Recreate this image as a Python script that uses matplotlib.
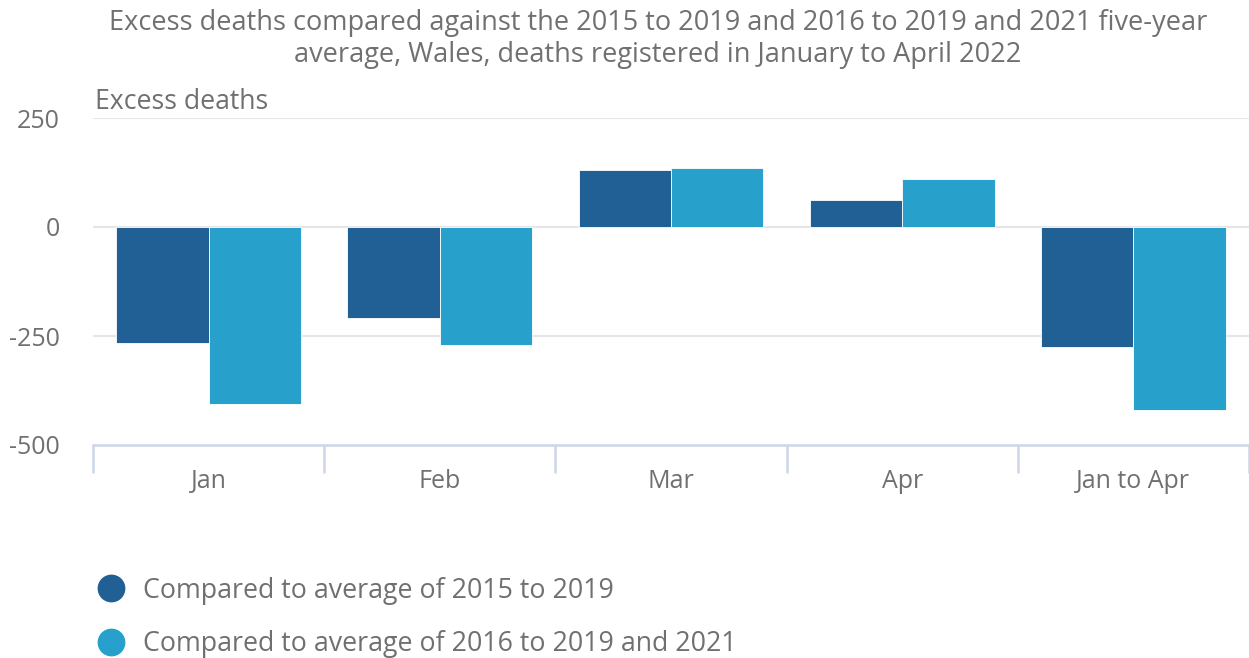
import matplotlib
matplotlib.use("Agg")
import matplotlib.pyplot as plt
import numpy as np
from matplotlib.lines import Line2D

categories = ["Jan", "Feb", "Mar", "Apr", "Jan to Apr"]
series_names = ["Compared to average of 2015 to 2019",
                "Compared to average of 2016 to 2019 and 2021"]
avg_2015_2019 = [-266, -209, 130, 63, -275]
avg_2016_2019_2021 = [-406, -271, 135, 109, -420]
yticks = [250, 0, -250, -500]

dark = "#206095"
light = "#27a0cc"
txt = "#707070"

plt.rcParams['font.family'] = ['Open Sans', 'DejaVu Sans']

fig = plt.figure(figsize=(12.49, 6.58), dpi=100)
ax = fig.add_axes([93/1249, 1-445/658, (1249-93)/1249, (445-118)/658])

x = np.arange(len(categories))
w = 0.4
ax.bar(x - w/2, avg_2015_2019, w, color=dark, edgecolor="white", linewidth=0.6, zorder=3)
ax.bar(x + w/2, avg_2016_2019_2021, w, color=light, edgecolor="white", linewidth=0.6, zorder=3)

ax.set_xlim(-0.5, len(categories) - 0.5)
ax.set_ylim(-500, 250)
ax.set_yticks(yticks)
ax.set_yticklabels([f"{v}" for v in yticks])
for v in yticks:
    if v != -500:
        ax.axhline(v, color="#e6e6e6", linewidth=1.5, zorder=1)

for s in ["top", "right", "left"]:
    ax.spines[s].set_visible(False)
ax.spines["bottom"].set_color("#ccd6e8")
ax.spines["bottom"].set_linewidth(1.8)

ax.set_xticks(x)
ax.set_xticklabels(categories)
ax.tick_params(axis="x", length=0, pad=17, labelsize=18, labelcolor=txt)
ax.set_xticks(np.arange(len(categories) + 1) - 0.5, minor=True)
ax.tick_params(axis="x", which="minor", length=20, width=1.8, color="#ccd6e8")
ax.tick_params(axis="y", length=0, pad=24, labelsize=18, labelcolor=txt)

fig.text(658/1249, 1 - 39/658, "Excess deaths compared against the 2015 to 2019 and 2016 to 2019 and 2021 five-year\naverage, Wales, deaths registered in January to April 2022",
         ha="center", va="center", fontsize=19.5, color=txt, linespacing=1.2)
fig.text(95/1249, 1 - 102/658, "Excess deaths", ha="left", va="center", fontsize=19.2, color=txt)

handles = [Line2D([0], [0], marker="o", linestyle="none", markersize=19, markerfacecolor=c, markeredgecolor=c)
           for c in (dark, light)]
fig.legend(handles, series_names, loc="upper left", bbox_to_anchor=(84/1249, 1 - 566/658),
           frameon=False, fontsize=19.3, labelcolor=txt, handletextpad=0.6, labelspacing=0.95,
           borderaxespad=0, handlelength=1.2)

fig.savefig("out.png", dpi=100)
